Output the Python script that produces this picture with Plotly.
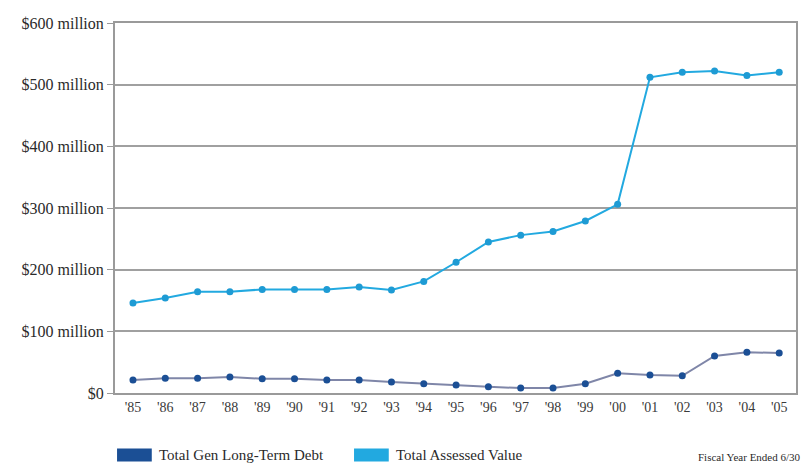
import plotly.graph_objects as go

years = ["'85", "'86", "'87", "'88", "'89", "'90", "'91", "'92", "'93", "'94",
         "'95", "'96", "'97", "'98", "'99", "'00", "'01", "'02", "'03", "'04", "'05"]
assessed_value = [146, 154, 164, 164, 168, 168, 168, 172, 167, 181,
                  212, 245, 256, 262, 279, 306, 512, 520, 522, 515, 520]
long_term_debt = [21, 24, 24, 26, 23, 23, 21, 21, 18, 15,
                  13, 10, 8, 8, 15, 32, 29, 28, 60, 66, 65]
y_ticks = [0, 100, 200, 300, 400, 500, 600]
y_tick_text = ["$0", "$100 million", "$200 million", "$300 million",
               "$400 million", "$500 million", "$600 million"]

DEBT_COLOR = "#1b4f95"
ASSESSED_COLOR = "#22a9e0"
FONT = "Liberation Serif"

x = list(range(len(years)))

fig = go.Figure()
fig.add_trace(go.Scatter(
    x=x, y=assessed_value, mode="lines+markers", name="Total Assessed Value",
    line=dict(color=ASSESSED_COLOR, width=2),
    marker=dict(color="#1e9bd4", size=7),
))
fig.add_trace(go.Scatter(
    x=x, y=long_term_debt, mode="lines+markers", name="Total Gen Long-Term Debt",
    line=dict(color="#7f86a8", width=2),
    marker=dict(color=DEBT_COLOR, size=7),
))

fig.update_layout(
    width=810, height=465,
    margin=dict(l=115, r=12, t=23, b=72),
    paper_bgcolor="white", plot_bgcolor="white",
    showlegend=False,
    font=dict(family=FONT, color="#2a2a2a", size=14),
    xaxis=dict(
        range=[-0.556, 20.52],
        tickvals=x, ticktext=years,
        showgrid=False, zeroline=False,
        showline=True, linecolor="#9a9a9a", linewidth=2, mirror=True,
        ticks="", tickfont=dict(size=14, color="#3a3a3a"),
    ),
    yaxis=dict(
        range=[0, 600],
        tickvals=y_ticks, ticktext=y_tick_text,
        showgrid=True, gridcolor="#a0a0a0", gridwidth=2,
        zeroline=False,
        showline=True, linecolor="#9a9a9a", linewidth=2, mirror=True,
        ticks="outside", ticklen=6, tickcolor="#9a9a9a",
        tickfont=dict(size=16, color="#2a2a2a"),
    ),
)

# Legend swatches and labels below the plot
legend_items = [
    (0.003, 0.054, DEBT_COLOR, "Total Gen Long-Term Debt", 0.062),
    (0.351, 0.402, ASSESSED_COLOR, "Total Assessed Value", 0.410),
]
for x0, x1, color, label, tx in legend_items:
    fig.add_shape(type="rect", xref="paper", yref="paper",
                  x0=x0, x1=x1, y0=-0.185, y1=-0.15,
                  fillcolor=color, line=dict(width=0))
    fig.add_annotation(xref="paper", yref="paper", x=tx, y=-0.168,
                       text=label, showarrow=False, xanchor="left",
                       yanchor="middle", font=dict(size=15, color="#2a2a2a"))

fig.add_annotation(xref="paper", yref="paper", x=1.01, y=-0.172,
                   text="Fiscal Year Ended 6/30", showarrow=False,
                   xanchor="right", yanchor="middle",
                   font=dict(size=11, color="#2a2a2a"))

fig.write_html("out.html")
